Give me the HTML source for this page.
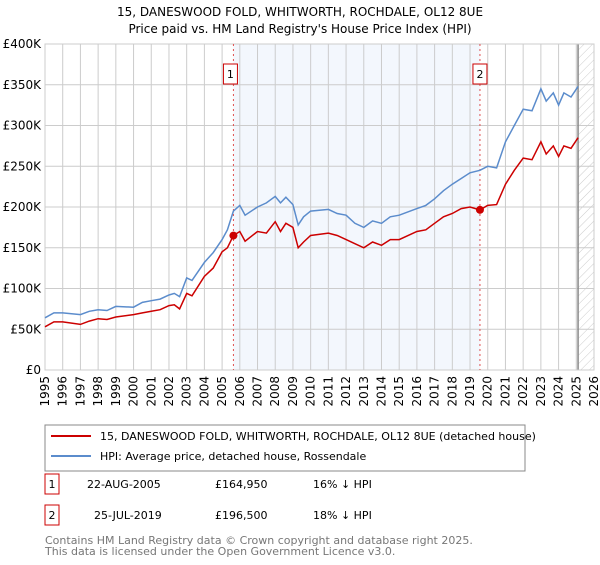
<!DOCTYPE html>
<html><head><meta charset="utf-8"><style>
body{margin:0;background:#fff;font-family:"Liberation Sans","DejaVu Sans",sans-serif;}
svg text{font-family:"DejaVu Sans","Liberation Sans",sans-serif;}
</style></head><body>
<svg id="c" width="600" height="560" xmlns="http://www.w3.org/2000/svg">
<defs><pattern id="hatch" width="6" height="6" patternUnits="userSpaceOnUse" patternTransform="rotate(45)"><line x1="0" y1="0" x2="0" y2="6" stroke="#ccc" stroke-width="1"/></pattern></defs>
<text x="300" y="16" text-anchor="middle" font-size="12">15, DANESWOOD FOLD, WHITWORTH, ROCHDALE, OL12 8UE</text>
<text x="300" y="33" text-anchor="middle" font-size="12">Price paid vs. HM Land Registry's House Price Index (HPI)</text>
<g id="plot"></g>
<rect x="45" y="425" width="480" height="46" fill="#fff" stroke="#888"/>
<line x1="51" y1="436" x2="91" y2="436" stroke="#cc0000" stroke-width="2"/>
<text x="100" y="440" font-size="11">15, DANESWOOD FOLD, WHITWORTH, ROCHDALE, OL12 8UE (detached house)</text>
<line x1="51" y1="456" x2="91" y2="456" stroke="#5b8ccc" stroke-width="2"/>
<text x="100" y="460" font-size="11">HPI: Average price, detached house, Rossendale</text>
<g font-size="11">
<rect x="45" y="474" width="14" height="20" fill="#fff" stroke="#cc0000"/><text x="52" y="488" text-anchor="middle">1</text>
<text x="87" y="488">22-AUG-2005</text><text x="215" y="488">£164,950</text><text x="313" y="488">16% ↓ HPI</text>
<rect x="45" y="505" width="14" height="20" fill="#fff" stroke="#cc0000"/><text x="52" y="519" text-anchor="middle">2</text>
<text x="94" y="519">25-JUL-2019</text><text x="215" y="519">£196,500</text><text x="313" y="519">18% ↓ HPI</text>
</g>
<text x="45" y="544" font-size="11" fill="#777">Contains HM Land Registry data © Crown copyright and database right 2025.</text>
<text x="45" y="555" font-size="11" fill="#777">This data is licensed under the Open Government Licence v3.0.</text>
</svg>
<script>
const hpiYears=[1995,1995.5,1996,1997,1997.5,1998,1998.5,1999,2000,2000.5,2001,2001.5,2002,2002.3,2002.6,2003,2003.3,2004,2004.5,2005,2005.3,2005.64,2006,2006.3,2007,2007.5,2008,2008.3,2008.6,2009,2009.3,2009.6,2010,2011,2011.5,2012,2012.5,2013,2013.5,2014,2014.5,2015,2016,2016.5,2017,2017.5,2018,2018.5,2019,2019.56,2020,2020.5,2021,2021.5,2022,2022.5,2023,2023.3,2023.7,2024,2024.3,2024.7,2025.1];
const hpiValues=[64,70,70,68,72,74,73,78,77,83,85,87,92,94,90,113,110,132,144,160,172,195,202,190,200,205,213,205,212,203,178,188,195,197,192,190,180,175,183,180,188,190,198,202,210,220,228,235,242,245,250,248,280,300,320,318,345,330,340,325,340,335,348];
const priceValues=[53,59,59,56,60,63,62,65,68,70,72,74,79,80,75,94,91,115,125,145,150,165,170,158,170,168,182,170,180,175,150,157,165,168,165,160,155,150,157,153,160,160,170,172,180,188,192,198,200,196.5,202,203,228,245,260,258,280,265,275,262,275,272,285];
const saleYears=[2005.64,2019.56];
const saleValues=[164.95,196.5];
const saleLabels=["1","2"];
const yTicks=[0,50,100,150,200,250,300,350,400];
const yTickLabels=["£0","£50K","£100K","£150K","£200K","£250K","£300K","£350K","£400K"];
const xTicks=[1995,1996,1997,1998,1999,2000,2001,2002,2003,2004,2005,2006,2007,2008,2009,2010,2011,2012,2013,2014,2015,2016,2017,2018,2019,2020,2021,2022,2023,2024,2025,2026];
const L=45,R=594,T=44,B=370,x0=1995,x1=2026,dataEnd=2025.1;
const X=v=>L+(v-x0)/(x1-x0)*(R-L);
const Y=v=>B-v/400*(B-T);
const NS="http://www.w3.org/2000/svg";
const g=document.getElementById('plot');
function mk(t,a){const e=document.createElementNS(NS,t);for(const k in a)e.setAttribute(k,a[k]);g.appendChild(e);return e;}
let e=mk('rect',{x:X(saleYears[0]),y:T,width:X(saleYears[1])-X(saleYears[0]),height:B-T,fill:'#eef3fc',opacity:0.7});


e=mk('rect',{x:X(dataEnd),y:T,width:R-X(dataEnd),height:B-T,fill:'url(#hatch)'});


yTicks.forEach((v,i)=>{
 e=mk('line',{x1:L,x2:R,y1:Y(v),y2:Y(v),stroke:'#ccc'});
 
 
 e=mk('text',{x:L-4,y:Y(v)+4,'text-anchor':'end','font-size':12});
 e.textContent=yTickLabels[i];
 
 
});
xTicks.forEach(v=>{
 e=mk('line',{x1:X(v),x2:X(v),y1:T,y2:B,stroke:'#ccc'});
 
 
 e=mk('text',{x:0,y:0,'text-anchor':'end','font-size':12,transform:`translate(${X(v)+4},${B+6}) rotate(-90)`});
 e.textContent=v;
 
 
});
e=mk('line',{x1:X(dataEnd),x2:X(dataEnd),y1:T,y2:B,stroke:'#888','stroke-width':1.5});


e=mk('rect',{x:L,y:T,width:R-L,height:B-T,fill:'none',stroke:'#ccc'});


saleYears.forEach((v,i)=>{
 e=mk('line',{x1:X(v),x2:X(v),y1:T,y2:B,stroke:'#e05050','stroke-dasharray':'2,3'});
 
 
 e=mk('rect',{x:X(v)-7-(i?0:3),y:64,width:14,height:20,fill:'#fff',stroke:'#cc0000'});
 
 
 e=mk('text',{x:X(v)-(i?0:3),y:78,'text-anchor':'middle','font-size':11});
 e.textContent=saleLabels[i];
 
 
});
const pts=a=>hpiYears.map((y,i)=>X(y).toFixed(1)+','+Y(a[i]).toFixed(1)).join(' ');
e=mk('polyline',{points:pts(hpiValues),fill:'none',stroke:'#5b8ccc','stroke-width':1.5});


e=mk('polyline',{points:pts(priceValues),fill:'none',stroke:'#cc0000','stroke-width':1.5});


saleYears.forEach((v,i)=>{
 e=mk('circle',{cx:X(v),cy:Y(saleValues[i]),r:4,fill:'#cc0000'});
 
 
});
</script>
</body></html>
